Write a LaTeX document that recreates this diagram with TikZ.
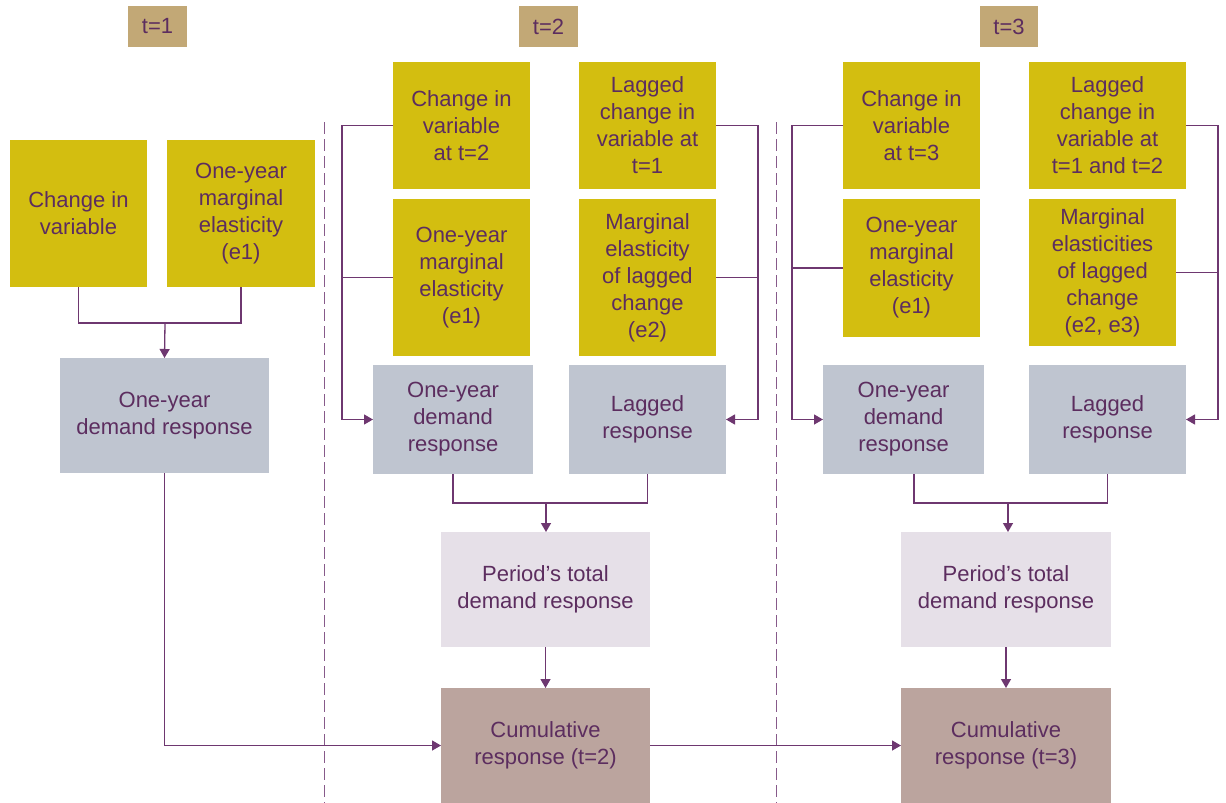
\documentclass[tikz,border=0pt]{standalone}
\usepackage{fontspec}
\setmainfont{Liberation Sans}
\usetikzlibrary{arrows.meta}
\definecolor{olive}{RGB}{211,190,16}
\definecolor{tan}{RGB}{194,168,118}
\definecolor{grayb}{RGB}{191,197,208}
\definecolor{lav}{RGB}{230,224,232}
\definecolor{cumc}{RGB}{187,164,158}
\definecolor{txt}{RGB}{92,45,95}
\definecolor{conn}{RGB}{110,55,112}
\definecolor{dashc}{RGB}{135,90,138}
% \bx{name}{style}{x1}{y1}{x2}{y2}{text}
\newcommand\bx[7]{%
  \node[#2, minimum width={(#5-#3)*1pt}, minimum height={(#6-#4)*1pt}]
    (#1) at ({(#3+#5)/2},{(#4+#6)/2}) {#7};}
\begin{document}
\begin{tikzpicture}[x=1pt,y=-1pt,
  box/.style={inner sep=0pt, outer sep=0pt, align=center, text=txt,
    font=\fontsize{22}{27}\selectfont, anchor=center},
  ybox/.style={box, fill=olive},
  hbox/.style={box, fill=tan},
  gbox/.style={box, fill=grayb},
  lbox/.style={box, fill=lav},
  cbox/.style={box, fill=cumc},
  conline/.style={draw=conn, line width=1.3pt},
  arr/.style={conline, -{Triangle[length=9pt,width=10pt]}},
  sep/.style={draw=dashc, line width=1pt, dash pattern=on 12pt off 5pt}]
\fill[white] (0,0) rectangle (1226,803);
\useasboundingbox (0,0) rectangle (1226,803);

% headers
\bx{h1}{hbox}{128}{6}{187}{47}{t=1}
\bx{h2}{hbox}{519}{6}{578}{47}{t=2}
\bx{h3}{hbox}{980}{6}{1038}{47}{t=3}

% separators
\coordinate (s1a) at (324,122); \coordinate (s1b) at (324,803);
\coordinate (s2a) at (776,122); \coordinate (s2b) at (776,803);
\draw[sep] (s1a) -- (s1b);
\draw[sep] (s2a) -- (s2b);

% t=1
\bx{c1}{ybox}{10}{140}{147}{287}{Change in\\variable}
\bx{e1}{ybox}{167}{140}{315}{287}{One-year\\marginal\\elasticity\\(e1)}
\bx{g1}{gbox}{60}{358}{269}{473}{One-year\\demand response}

% t=2
\bx{c2}{ybox}{393}{62}{530}{189}{Change in\\variable\\at t=2}
\bx{l2}{ybox}{579}{62}{716}{189}{Lagged\\change in\\variable at\\t=1}
\bx{e2}{ybox}{393}{199}{530}{356}{One-year\\marginal\\elasticity\\(e1)}
\bx{m2}{ybox}{579}{199}{716}{356}{Marginal\\elasticity\\of lagged\\change\\(e2)}
\bx{g2l}{gbox}{373}{365}{533}{474}{One-year\\demand\\response}
\bx{g2r}{gbox}{569}{365}{726}{474}{Lagged\\response}
\bx{p2}{lbox}{441}{532}{650}{647}{Period’s total\\demand response}
\bx{cum2}{cbox}{441}{688}{650}{803}{Cumulative\\response (t=2)}

% t=3
\bx{c3}{ybox}{843}{62}{980}{189}{Change in\\variable\\at t=3}
\bx{l3}{ybox}{1029}{62}{1186}{189}{Lagged\\change in\\variable at\\t=1 and t=2}
\bx{e3}{ybox}{843}{199}{980}{337}{One-year\\marginal\\elasticity\\(e1)}
\bx{m3}{ybox}{1029}{199}{1176}{346}{Marginal\\elasticities\\of lagged\\change\\(e2, e3)}
\bx{g3l}{gbox}{823}{365}{984}{474}{One-year\\demand\\response}
\bx{g3r}{gbox}{1029}{365}{1186}{474}{Lagged\\response}
\bx{p3}{lbox}{901}{532}{1111}{647}{Period’s total\\demand response}
\bx{cum3}{cbox}{901}{688}{1111}{803}{Cumulative\\response (t=3)}

% connectors t=1
\coordinate (j1) at (165,323);
\draw[conline] (c1.south) |- (j1) -| (e1.south);
\draw[arr] (j1) -- (g1.north);
\draw[arr] (g1.south) |- (cum2.west);

% connectors t=2
\coordinate (L2) at (342,0);
\coordinate (R2) at (758,0);
\draw[arr] (c2.west) -| (L2 |- g2l.west) -- (g2l.west);
\draw[conline] (e2.west) -- (L2 |- e2.west);
\draw[arr] (l2.east) -| (R2 |- g2r.east) -- (g2r.east);
\draw[conline] (m2.east) -- (R2 |- m2.east);
\coordinate (J2) at (546,503);
\draw[conline] (g2l.south) |- (J2) -| (g2r.south);
\draw[arr] (J2) -- (J2 |- p2.north);
\draw[arr] (p2.south) -- (cum2.north);
\draw[arr] (cum2.east) -- (cum3.west);

% connectors t=3
\coordinate (L3) at (792,0);
\coordinate (R3) at (1218,0);
\draw[arr] (c3.west) -| (L3 |- g3l.west) -- (g3l.west);
\draw[conline] (e3.west) -- (L3 |- e3.west);
\draw[arr] (l3.east) -| (R3 |- g3r.east) -- (g3r.east);
\draw[conline] (m3.east) -- (R3 |- m3.east);
\coordinate (B3) at (914,474);
\coordinate (J3) at (1008,503);
\draw[conline] (B3) |- (J3) -| (g3r.south);
\draw[arr] (J3) -- (J3 |- p3.north);
\draw[arr] (p3.south) -- (cum3.north);
\end{tikzpicture}
\end{document}
